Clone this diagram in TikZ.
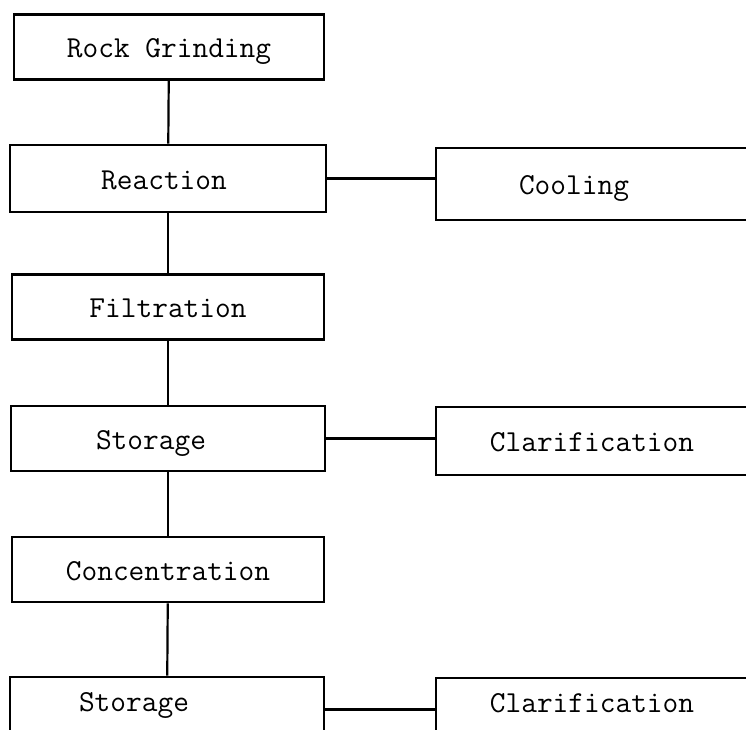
\documentclass[tikz,border=0pt]{standalone}
\begin{document}
\begin{tikzpicture}[x=1pt,y=-1pt,
    box/.style={draw,line width=2.8pt,minimum width=312pt,minimum height=65pt,inner sep=0pt,
        text height=21pt,text depth=0pt,font=\fontsize{30.5}{36}\selectfont\ttfamily},
    cut/.style={text depth=18pt},
    vline/.style={line width=2.2pt},
    hline/.style={line width=3.4pt}]
    \useasboundingbox(0,0)rectangle(746,729);
    \clip(0,0)rectangle(746,729);
    % left column
    \node[box,minimum width=310pt](grind)at(169,47){Rock Grinding};
    \node[box,minimum width=316pt,minimum height=67pt](react)at(168,178.5){Reaction\hspace*{8pt}};
    \node[box](filt)at(168,307){Filtration};
    \node[box,minimum width=314pt](store)at(168,438.5){Storage\hspace*{34pt}};
    \node[box](conc)at(168,569.5){Concentration};
    \node[box,cut,minimum width=314pt](storeb)at(167,709.5){Storage\hspace*{66pt}};
    % right column, runs off the page
    \node[box,minimum width=340pt,minimum height=72pt](cool)at(606,184){Cooling\hspace*{64pt}};
    \node[box,minimum width=340pt,minimum height=68pt](clar)at(606,441){Clarification\hspace*{28pt}};
    \node[box,cut,minimum width=340pt](clarb)at(606,710.5){Clarification\hspace*{28pt}};
    \foreach \a/\b in {grind/react,react/filt,filt/store,store/conc,conc/storeb}{
        \draw[vline](\a)--(\b);
    }
    \foreach \a/\b in {react/cool,store/clar,storeb/clarb}{
        \draw[hline](\a)--(\a-|\b.west);
    }
\end{tikzpicture}
\end{document}
